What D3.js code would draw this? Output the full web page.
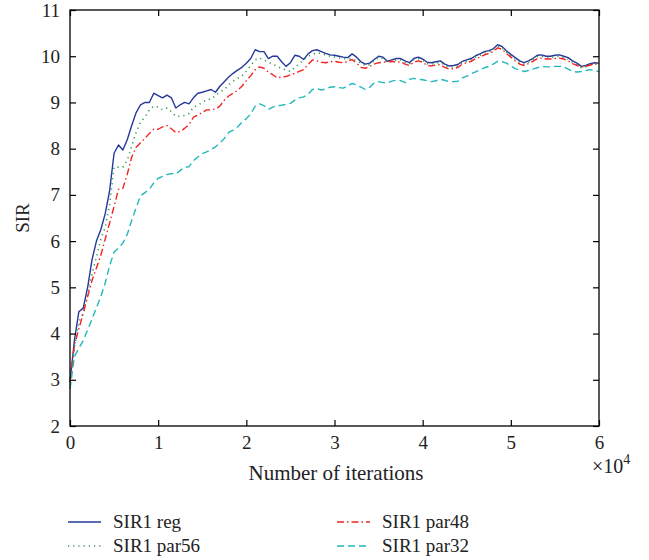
<!DOCTYPE html>
<html>
<head>
<meta charset="utf-8">
<script src="https://cdn.jsdelivr.net/npm/d3@7"></script>
<style>
  body { margin: 0; background: #fff; }
  svg { display: block; font-family: "Liberation Serif", "DejaVu Serif", serif; }
</style>
</head>
<body>
<div id="canvas"></div>
<script>
// iteration grid, step 500
const iterations = d3.range(0, 60001, 500)

const sirReg = [
  2.95, 3.85, 4.47, 4.55, 5.0, 5.6, 6.0, 6.25, 6.6, 7.1,
  7.9, 8.08, 7.97, 8.2, 8.5, 8.78, 8.95, 9.0, 9.0, 9.2,
  9.15, 9.1, 9.16, 9.1, 8.88, 8.95, 9.0, 8.97, 9.1, 9.2,
  9.22, 9.25, 9.28, 9.22, 9.35, 9.45, 9.55, 9.63, 9.7, 9.76,
  9.85, 9.95, 10.14, 10.1, 10.1, 9.95, 10.0, 10.0, 9.88, 9.78,
  9.86, 10.02, 10.0, 9.93, 10.05, 10.12, 10.14, 10.1, 10.06, 10.03,
  10.02, 10.0, 9.98, 9.97, 10.05, 9.98, 9.88, 9.83, 9.85, 9.93,
  10.0, 9.98, 9.89, 9.92, 9.95, 9.95, 9.9, 9.86, 9.95, 9.98,
  9.94, 9.87, 9.86, 9.88, 9.9, 9.83, 9.79, 9.8, 9.82, 9.89,
  9.92, 9.95, 10.01, 10.05, 10.1, 10.12, 10.16, 10.25, 10.21, 10.12,
  10.04, 9.97, 9.9, 9.86, 9.9, 9.95, 10.02, 10.03, 10.0, 10.0,
  10.02, 10.03, 10.0, 9.97, 9.9, 9.85, 9.78, 9.8, 9.84, 9.86,
  9.85
]

const sirPar56 = [
  2.95, 3.7, 4.25, 4.45, 4.85, 5.3, 5.65, 6.05, 6.3, 6.8,
  7.6, 7.6, 7.6, 7.75, 8.05, 8.35, 8.58, 8.68, 8.84, 8.92,
  8.9, 8.84, 8.88, 8.8, 8.7, 8.7, 8.72, 8.76, 8.9, 8.94,
  9.0, 9.06, 9.07, 9.15, 9.23, 9.28, 9.38, 9.46, 9.52, 9.57,
  9.68, 9.8, 9.92, 9.96, 9.92, 9.87, 9.83, 9.78, 9.74, 9.7,
  9.67, 9.75, 9.84, 9.92, 10.0, 10.04, 10.07, 10.06, 10.03, 10.0,
  9.98, 9.96, 9.95, 9.94, 9.95, 9.9, 9.85, 9.8, 9.82, 9.9,
  9.97, 9.95, 9.86, 9.89, 9.92, 9.92, 9.87, 9.83, 9.92, 9.95,
  9.91, 9.84, 9.83, 9.85, 9.87, 9.8, 9.76, 9.77, 9.79, 9.86,
  9.89, 9.92, 9.98, 10.02, 10.07, 10.09, 10.13, 10.22, 10.18, 10.09,
  10.01, 9.94, 9.87, 9.83, 9.87, 9.92, 9.99, 10.0, 9.97, 9.97,
  9.99, 10.0, 9.97, 9.94, 9.87, 9.82, 9.75, 9.77, 9.81, 9.83,
  9.82
]

const sirPar48 = [
  2.95, 3.75, 4.1, 4.44, 4.8, 5.15, 5.42, 5.7, 6.05, 6.4,
  6.75, 7.12, 7.14, 7.45, 7.82, 8.03, 8.13, 8.22, 8.33, 8.42,
  8.42, 8.47, 8.5, 8.43, 8.35, 8.37, 8.44, 8.52, 8.68, 8.73,
  8.78, 8.84, 8.84, 8.86, 8.92, 9.05, 9.14, 9.2, 9.26, 9.35,
  9.47, 9.58, 9.71, 9.77, 9.74, 9.66, 9.6, 9.53, 9.55, 9.56,
  9.6, 9.63, 9.67, 9.71, 9.82, 9.92, 9.9, 9.87, 9.86, 9.88,
  9.89, 9.87, 9.86, 9.88, 9.93, 9.85, 9.76, 9.74, 9.78, 9.83,
  9.86, 9.87, 9.88, 9.89, 9.87, 9.88, 9.83, 9.8, 9.87, 9.9,
  9.87, 9.8, 9.79, 9.81, 9.82, 9.76, 9.72, 9.73, 9.76, 9.83,
  9.86, 9.89, 9.95, 9.98, 10.03, 10.06, 10.1, 10.18, 10.15, 10.06,
  9.98, 9.9, 9.83, 9.8, 9.84, 9.89, 9.95, 9.96, 9.94, 9.94,
  9.95, 9.96, 9.94, 9.9, 9.84, 9.8, 9.77, 9.78, 9.81, 9.84,
  9.84
]

const sirPar32 = [
  2.8, 3.5, 3.68, 3.85, 4.08, 4.32, 4.56, 4.8, 5.1, 5.47,
  5.76, 5.85, 5.96, 6.15, 6.45, 6.72, 6.98, 7.05, 7.12, 7.26,
  7.36, 7.4, 7.44, 7.46, 7.45, 7.53, 7.6, 7.61, 7.74, 7.82,
  7.89, 7.93, 7.98, 8.04, 8.12, 8.22, 8.35, 8.4, 8.47, 8.57,
  8.65, 8.75, 8.92, 8.97, 8.93, 8.85, 8.9, 8.93, 8.94, 8.96,
  8.98, 9.05, 9.1, 9.12, 9.18, 9.28, 9.3, 9.27, 9.29, 9.33,
  9.34, 9.32, 9.31, 9.36, 9.41, 9.38, 9.33, 9.28, 9.33, 9.42,
  9.45, 9.43, 9.42, 9.46, 9.48, 9.47, 9.43, 9.5, 9.52, 9.5,
  9.49, 9.47, 9.45, 9.47, 9.5, 9.48, 9.45, 9.45, 9.46, 9.53,
  9.57, 9.62, 9.66, 9.71, 9.75, 9.78, 9.83, 9.89, 9.88, 9.85,
  9.79, 9.73, 9.7, 9.67, 9.69, 9.72, 9.75, 9.78, 9.77, 9.77,
  9.78, 9.78, 9.77, 9.72, 9.67, 9.66, 9.67, 9.69, 9.71, 9.69,
  9.67
]

const seriesNames = ['SIR1 reg', 'SIR1 par56', 'SIR1 par48', 'SIR1 par32']
const xTicks = [0, 10000, 20000, 30000, 40000, 50000, 60000]
const yTicks = [2, 3, 4, 5, 6, 7, 8, 9, 10, 11]

const series = [
  { name: seriesNames[0], values: sirReg, color: '#26399a', dash: null, width: 1.4 },
  { name: seriesNames[1], values: sirPar56, color: '#2e9a55', dash: '1.2,4', width: 1.6 },
  { name: seriesNames[2], values: sirPar48, color: '#f52222', dash: '7,3,1.5,3', width: 1.4 },
  { name: seriesNames[3], values: sirPar32, color: '#22b8bc', dash: '7,4', width: 1.4 }
]

const W = 649
const H = 560
const margin = { top: 10, left: 70, right: 50, bottom: 134 }
const plotW = W - margin.left - margin.right
const plotH = H - margin.top - margin.bottom

const svg = d3.select('#canvas')
  .append('svg')
    .attr('width', W)
    .attr('height', H)

const x = d3.scaleLinear().domain([0, 60000]).range([margin.left, margin.left + plotW])
const y = d3.scaleLinear().domain([2, 11]).range([margin.top + plotH, margin.top])

const line = d3.line()
  .x((d, i) => x(iterations[i]))
  .y(d => y(d))

svg.append('g').selectAll('path')
  .data(series)
  .enter()
  .append('path')
    .attr('d', d => line(d.values))
    .attr('fill', 'none')
    .attr('stroke', d => d.color)
    .attr('stroke-width', d => d.width)
    .attr('stroke-dasharray', d => d.dash)
    .attr('stroke-linejoin', 'round')

// axes, ticks inside on all sides
function styleAxis(g) {
  g.select('.domain').remove()
  g.selectAll('.tick line').attr('stroke', '#000').attr('stroke-width', 1.2)
  g.selectAll('.tick text').attr('fill', '#222').attr('font-size', '19px')
    .attr('font-family', '"Liberation Serif", "DejaVu Serif", serif')
}

svg.append('g')
  .attr('transform', `translate(0, ${margin.top + plotH})`)
  .call(d3.axisBottom(x).tickValues(xTicks).tickSize(-6).tickPadding(10).tickFormat(d => d / 10000))
  .call(styleAxis)

svg.append('g')
  .attr('transform', `translate(0, ${margin.top})`)
  .call(d3.axisTop(x).tickValues(xTicks).tickSize(-6).tickFormat(''))
  .call(styleAxis)

svg.append('g')
  .attr('transform', `translate(${margin.left}, 0)`)
  .call(d3.axisLeft(y).tickValues(yTicks).tickSize(-6).tickPadding(10))
  .call(styleAxis)

svg.append('g')
  .attr('transform', `translate(${margin.left + plotW}, 0)`)
  .call(d3.axisRight(y).tickValues(yTicks).tickSize(-6).tickFormat(''))
  .call(styleAxis)

svg.append('rect')
  .attr('x', margin.left)
  .attr('y', margin.top)
  .attr('width', plotW)
  .attr('height', plotH)
  .attr('fill', 'none')
  .attr('stroke', '#000')
  .attr('stroke-width', 1.3)

// labels
svg.append('text')
  .attr('x', 336)
  .attr('y', 480)
  .attr('text-anchor', 'middle')
  .attr('font-size', '21px')
  .attr('fill', '#222')
  .text('Number of iterations')

svg.append('text')
  .attr('transform', `translate(29, ${margin.top + plotH / 2}) rotate(-90)`)
  .attr('text-anchor', 'middle')
  .attr('font-size', '19px')
  .attr('fill', '#222')
  .text('SIR')

const expo = svg.append('text')
  .attr('x', 592)
  .attr('y', 473)
  .attr('font-size', '20px')
  .attr('fill', '#222')
expo.append('tspan').text('\u00d710')
expo.append('tspan').attr('dy', -9).attr('font-size', '14px').text('4')

// legend
const legendPos = [
  { x: 68, y: 522 },
  { x: 68, y: 546 },
  { x: 337, y: 522 },
  { x: 337, y: 546 }
]

const legend = svg.append('g').selectAll('g')
  .data(series)
  .enter()
  .append('g')
    .attr('transform', (d, i) => `translate(${legendPos[i].x}, ${legendPos[i].y})`)

legend.append('line')
  .attr('x1', 0).attr('x2', 33)
  .attr('y1', 0).attr('y2', 0)
  .attr('stroke', d => d.color)
  .attr('stroke-width', d => d.width)
  .attr('stroke-dasharray', d => d.dash)

legend.append('text')
  .attr('x', 45)
  .attr('y', 6)
  .attr('font-size', '19px')
  .attr('fill', '#222')
  .text(d => d.name)
</script>
</body>
</html>
